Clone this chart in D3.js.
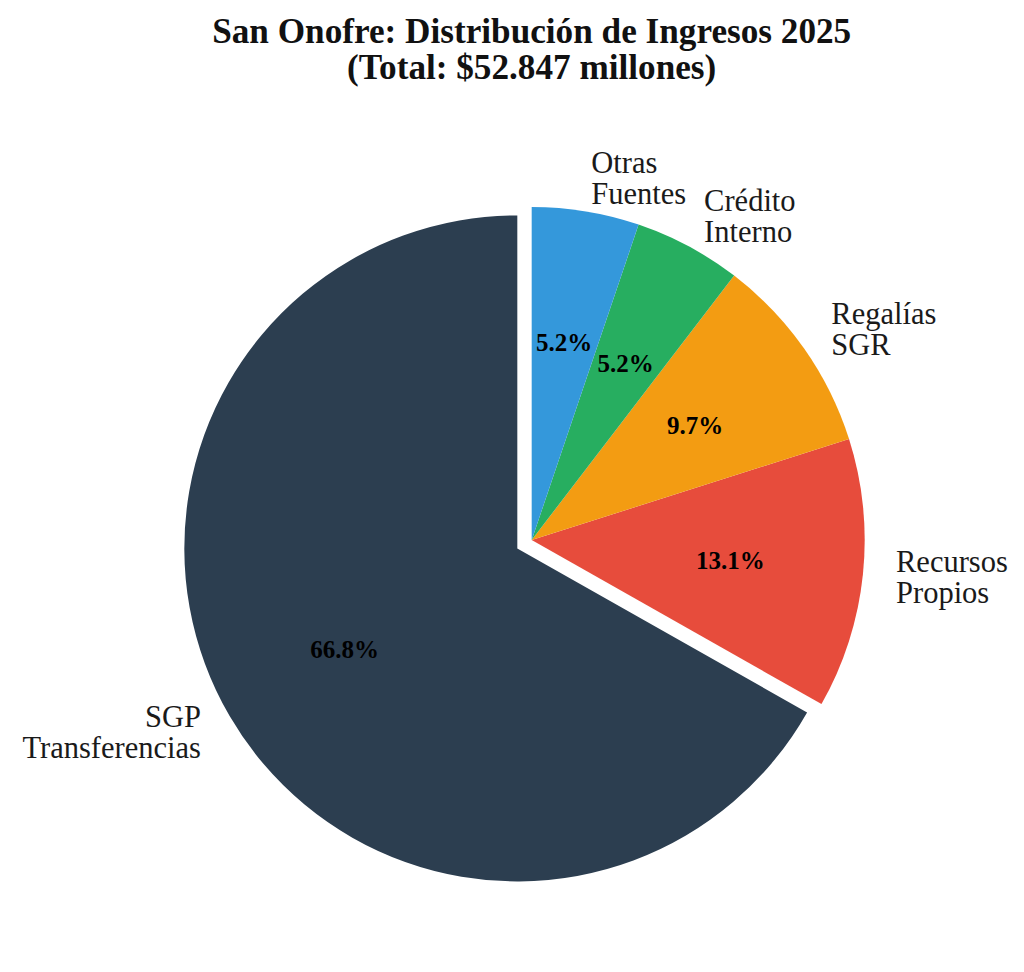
<!DOCTYPE html>
<html>
<head>
<meta charset="utf-8">
<script src="https://cdn.jsdelivr.net/npm/d3@7"></script>
<style>
  html, body { margin: 0; padding: 0; background: #ffffff; }
  svg { display: block; }
</style>
</head>
<body>
<div id="chart"></div>
<script>
const titleLines = ["San Onofre: Distribución de Ingresos 2025", "(Total: $52.847 millones)"];
const categories = [["SGP", "Transferencias"], ["Recursos", "Propios"], ["Regalías", "SGR"], ["Crédito", "Interno"], ["Otras", "Fuentes"]];
const values = [35302, 6923, 5126, 2748, 2748];   // millones COP
const colors = ["#2c3e50", "#e74c3c", "#f39c12", "#27ae60", "#3498db"];
const explode = [0.05, 0, 0, 0, 0];

const W = 1024, H = 972;
const cx = 531.7, cy = 540, R = 333;

const svg = d3.select("#chart").append("svg").attr("width", W).attr("height", H);

const tg = svg.append("g").attr("font-family", "'Liberation Serif', serif").attr("font-weight", "bold")
  .attr("font-size", 35.2).attr("text-anchor", "middle").attr("fill", "#111");
tg.selectAll("text").data(titleLines).join("text")
  .attr("x", cx).attr("y", (d, i) => 43 + i * 36).text(d => d);

const total = d3.sum(values);
const pie = d3.pie().sort(null).startAngle(0).endAngle(-2 * Math.PI);
const arcs = pie(values);
const arc = d3.arc().innerRadius(0).outerRadius(R);

const g = svg.append("g").attr("transform", `translate(${cx},${cy})`);

arcs.forEach((a, i) => {
  const mid = (a.startAngle + a.endAngle) / 2;
  const ox = Math.sin(mid) * explode[i] * R;
  const oy = -Math.cos(mid) * explode[i] * R;
  const sg = g.append("g").attr("transform", `translate(${ox},${oy})`);
  sg.append("path").attr("d", arc(a)).attr("fill", colors[i]);

  // percentage label
  const px = Math.sin(mid) * 0.6 * R, py = -Math.cos(mid) * 0.6 * R;
  sg.append("text").attr("x", px).attr("y", py)
    .attr("text-anchor", "middle").attr("dominant-baseline", "central")
    .attr("font-family", "'Liberation Serif', serif").attr("font-weight", "bold")
    .attr("font-size", 25).attr("fill", "#000")
    .text((values[i] / total * 100).toFixed(1) + "%");

  // category label
  const lx = Math.sin(mid) * 1.1 * R, ly = -Math.cos(mid) * 1.1 * R;
  const lines = categories[i];
  const lh = 31;
  const t = sg.append("text")
    .attr("text-anchor", lx > 0 ? "start" : "end")
    .attr("font-family", "'Liberation Serif', serif")
    .attr("font-size", 30.5).attr("fill", "#1a1a1a");
  lines.forEach((ln, j) => {
    t.append("tspan").attr("x", lx)
      .attr("y", ly + (j - (lines.length - 1) / 2) * lh)
      .attr("dominant-baseline", "central")
      .text(ln);
  });
});
</script>
</body>
</html>
